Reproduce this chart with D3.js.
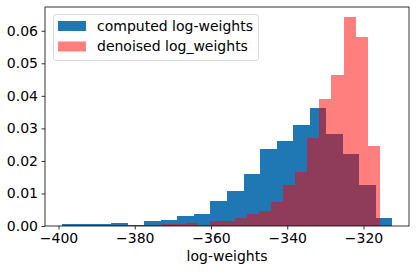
<!DOCTYPE html>
<html>
<head>
<meta charset="utf-8">
<script src="https://cdn.jsdelivr.net/npm/d3@7"></script>
<style>
  body { margin: 0; background: #fff; }
  svg { display: block; font-family: "DejaVu Sans", sans-serif; }
</style>
</head>
<body>
<svg id="chart"></svg>
<script>
// histogram densities (20 equal bins each)
var computedRange = [-399.2, -312.4];
var computedDensity = [0.0005, 0.0005, 0.0005, 0.0009, 0.0003, 0.0015, 0.0019, 0.0031, 0.0037, 0.0077,
                       0.0107, 0.0160, 0.0236, 0.0261, 0.0310, 0.0362, 0.0282, 0.0221, 0.0126, 0.0025];
var denoisedRange = [-379.2, -315.7];
var denoisedDensity = [0.0003, 0.0003, 0.0006, 0.0006, 0.0009, 0.0002, 0.0015, 0.0015, 0.0025, 0.0037,
                       0.0046, 0.0074, 0.0126, 0.0166, 0.0270, 0.0390, 0.0463, 0.0641, 0.0580, 0.0245];
var xTicks = [-400, -380, -360, -340, -320];
var yTicks = [0, 0.01, 0.02, 0.03, 0.04, 0.05, 0.06];
var seriesNames = ["computed log-weights", "denoised log_weights"];

var width = 416, height = 272,
    margin = {left: 45, right: 7, top: 7, bottom: 46},
    fontSize = 14;

var svg = d3.select("#chart").attr("width", width).attr("height", height);

var x = d3.scaleLinear().domain([-403.54, -308.06]).range([margin.left, width - margin.right]);
var y = d3.scaleLinear().domain([0, 0.0673]).range([height - margin.bottom, margin.top]);

function toBins(range, dens) {
    var w = (range[1] - range[0]) / dens.length;
    return dens.map(function (d, i) {
        return {x0: range[0] + i * w, x1: range[0] + (i + 1) * w, v: d};
    });
}

function drawHist(bins, fill, opacity) {
    svg.append("g").selectAll("rect").data(bins).enter().append("rect")
        .attr("x", function (d) { return x(d.x0); })
        .attr("width", function (d) { return x(d.x1) - x(d.x0); })
        .attr("y", function (d) { return y(d.v); })
        .attr("height", function (d) { return y(0) - y(d.v); })
        .attr("fill", fill)
        .attr("fill-opacity", opacity)
        .attr("shape-rendering", "crispEdges");
}

drawHist(toBins(computedRange, computedDensity), "#1f77b4", 1);
drawHist(toBins(denoisedRange, denoisedDensity), "#ff0000", 0.5);

// axes
var xAxis = svg.append("g").attr("transform", "translate(0," + y(0) + ")")
    .call(d3.axisBottom(x).tickValues(xTicks).tickSize(3.5).tickPadding(3.5)
        .tickFormat(function (d) { return d3.format("")(d).replace("-", "\u2212"); }));
var yAxis = svg.append("g").attr("transform", "translate(" + x.range()[0] + ",0)")
    .call(d3.axisLeft(y).tickValues(yTicks).tickSize(3.5).tickPadding(3.5).tickFormat(d3.format(".2f")));
[xAxis, yAxis].forEach(function (a) {
    a.select(".domain").remove();
    a.selectAll("line").attr("stroke", "#000").attr("stroke-width", 0.8);
    a.selectAll("text").attr("fill", "#000").style("font-size", fontSize + "px")
        .style("font-family", "'DejaVu Sans', sans-serif");
});

// frame
svg.append("rect")
    .attr("x", x.range()[0]).attr("y", y.range()[1])
    .attr("width", x.range()[1] - x.range()[0]).attr("height", y.range()[0] - y.range()[1])
    .attr("fill", "none").attr("stroke", "#000").attr("stroke-width", 0.8);

svg.append("text")
    .attr("x", (x.range()[0] + x.range()[1]) / 2).attr("y", 261)
    .attr("text-anchor", "middle").style("font-size", fontSize + "px")
    .text("log-weights");

// legend
var legend = svg.append("g");
legend.append("rect")
    .attr("x", 53.5).attr("y", 14.5).attr("width", 205).attr("height", 46)
    .attr("rx", 2.5).attr("fill", "#fff").attr("fill-opacity", 0.8)
    .attr("stroke", "#d0d0d0").attr("stroke-width", 0.8);
var legendColors = [["#1f77b4", 1], ["#ff0000", 0.5]];
seriesNames.forEach(function (name, i) {
    var cy = 26 + i * 20.5;
    legend.append("rect")
        .attr("x", 58).attr("y", cy - 5).attr("width", 28).attr("height", 10)
        .attr("fill", legendColors[i][0]).attr("fill-opacity", legendColors[i][1]);
    legend.append("text")
        .attr("x", 97).attr("y", cy).attr("dy", "0.35em")
        .style("font-size", fontSize + "px").text(name);
});
</script>
</body>
</html>
